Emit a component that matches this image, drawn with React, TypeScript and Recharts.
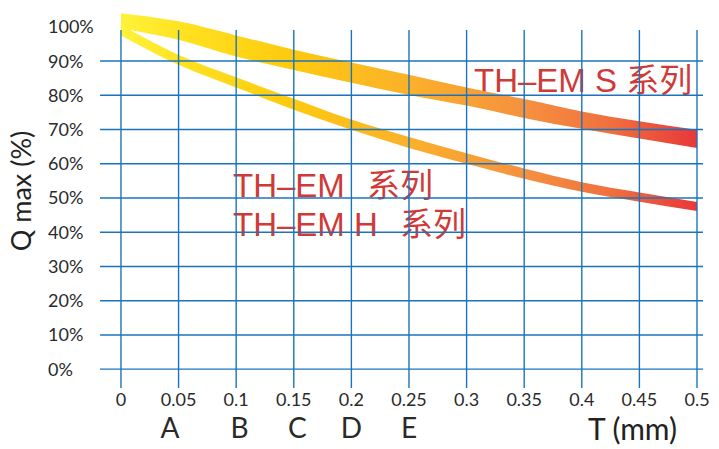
import { ComposedChart, Area, XAxis, YAxis, ReferenceLine, Customized } from 'recharts';

// thickness T (mm) at each grid column
const tValues = [0, 0.05, 0.1, 0.15, 0.2, 0.25, 0.3, 0.35, 0.4, 0.45, 0.5];
// upper band: TH-EM S series, lower / upper edge in %
const sLow = [99.5, 96.2, 91.3, 87.4, 83.7, 80.1, 77.0, 73.4, 70.2, 67.4, 64.6];
const sHigh = [104.0, 101.6, 97.5, 93.3, 89.6, 86.0, 82.3, 78.9, 75.3, 72.4, 69.9];
// lower band: TH-EM / TH-EM H series
const hLow = [97.5, 88.9, 82.3, 75.8, 69.9, 64.6, 60.0, 55.6, 51.8, 48.9, 46.2];
const hHigh = [100.5, 91.8, 85.3, 79.0, 72.9, 67.8, 63.1, 58.6, 54.6, 51.6, 48.8];

const yTicks = [0, 10, 20, 30, 40, 50, 60, 70, 80, 90, 100];
const gridRows = [0, 10, 20, 30, 40, 50, 60, 70, 80, 90];
const letterLabels = ['A', 'B', 'C', 'D', 'E'];
const letterPositions = [0.0425, 0.103, 0.153, 0.2, 0.25];
const seriesNames = ['TH–EM S 系列', 'TH–EM', '系列', 'TH–EM H', '系列'];

const X_DOMAIN: [number, number] = [-0.0182, 0.5052];
const Y_DOMAIN: [number, number] = [-5.5, 105.5];
const GRID_TOP = 99.1;

const data = tValues.map((t, i) => ({
  t,
  s: [sLow[i], sHigh[i]],
  h: [hLow[i], hHigh[i]],
}));

const BLUE = '#1b74bb';
const RED = '#cf3a37';
const AXIS_FONT = 'Lato, "Noto Sans", sans-serif';
const LABEL_FONT = '"Liberation Sans", Arial, "Noto Sans CJK SC", sans-serif';

const YTick = ({ y, payload }: any) => (
  <text x={48} y={y} dy="0.36em" textAnchor="start" fontSize={18} fill="#2a2a2a" fontFamily={AXIS_FONT}>
    {payload.value}%
  </text>
);

const XTick = ({ x, y, payload }: any) => (
  <text x={x} y={y} dy={10} textAnchor="middle" fontSize={18} fill="#2a2a2a" fontFamily={AXIS_FONT}>
    {payload.value}
  </text>
);

const LetterTick = ({ x, y, index }: any) => (
  <text x={x} y={y} dy={12} textAnchor="middle" fontSize={28} fill="#2a2a2a" fontFamily={AXIS_FONT}>
    {letterLabels[index]}
  </text>
);

const Annotations = () => (
  <g fill={RED} fontFamily={LABEL_FONT} fontSize={33}>
    <text x={474} y={92}>{seriesNames[0]}</text>
    <text x={233} y={197}>{seriesNames[1]}</text>
    <text x={367} y={197}>{seriesNames[2]}</text>
    <text x={233} y={236}>{seriesNames[3]}</text>
    <text x={400} y={236}>{seriesNames[4]}</text>
    <text
      x={22}
      y={191}
      transform="rotate(-90 22 191)"
      textAnchor="middle"
      dy="0.35em"
      fill="#222"
      fontFamily={AXIS_FONT}
      fontSize={27}
    >
      Q max (%)
    </text>
    <text x={677} y={440} textAnchor="end" fill="#222" fontFamily={AXIS_FONT} fontSize={30}>
      T (mm)
    </text>
  </g>
);

export default function App() {
  return (
    <div style={{ position: 'absolute', left: 0, top: 0, background: '#fff' }}>
      <ComposedChart width={719} height={449} data={data} margin={{ top: 8, right: 16, bottom: 0, left: 0 }}>
        <defs>
          <linearGradient id="bandGrad" x1="0" y1="0" x2="1" y2="0">
            <stop offset="0%" stopColor="#fff23a" />
            <stop offset="12%" stopColor="#ffe01f" />
            <stop offset="30%" stopColor="#fdc90f" />
            <stop offset="50%" stopColor="#fbb12a" />
            <stop offset="70%" stopColor="#f5913f" />
            <stop offset="85%" stopColor="#f0703d" />
            <stop offset="100%" stopColor="#e8383a" />
          </linearGradient>
        </defs>
        <XAxis
          xAxisId="b"
          dataKey="t"
          type="number"
          domain={X_DOMAIN}
          ticks={letterPositions}
          tick={<LetterTick />}
          axisLine={false}
          tickLine={false}
          height={31}
          interval={0}
        />
        <XAxis
          xAxisId="a"
          dataKey="t"
          type="number"
          domain={X_DOMAIN}
          ticks={tValues}
          tick={<XTick />}
          axisLine={false}
          tickLine={false}
          height={30}
          interval={0}
        />
        <YAxis
          type="number"
          domain={Y_DOMAIN}
          ticks={yTicks}
          tick={<YTick />}
          axisLine={false}
          tickLine={false}
          width={100}
          interval={0}
        />
        {gridRows.map((v) => (
          <ReferenceLine
            key={`h${v}`}
            xAxisId="a"
            segment={[{ x: X_DOMAIN[0], y: v }, { x: X_DOMAIN[1], y: v }]}
            stroke={BLUE}
            strokeWidth={1.4}
          />
        ))}
        {tValues.map((t) => (
          <ReferenceLine
            key={`v${t}`}
            xAxisId="a"
            segment={[{ x: t, y: Y_DOMAIN[0] }, { x: t, y: GRID_TOP }]}
            stroke={BLUE}
            strokeWidth={1.4}
          />
        ))}
        <Area
          xAxisId="a"
          type="monotone"
          dataKey="s"
          stroke="none"
          fill="url(#bandGrad)"
          fillOpacity={1}
          isAnimationActive={false}
          dot={false}
          activeDot={false}
        />
        <Area
          xAxisId="a"
          type="monotone"
          dataKey="h"
          stroke="none"
          fill="url(#bandGrad)"
          fillOpacity={1}
          isAnimationActive={false}
          dot={false}
          activeDot={false}
        />
        <Customized component={Annotations} />
      </ComposedChart>
    </div>
  );
}
